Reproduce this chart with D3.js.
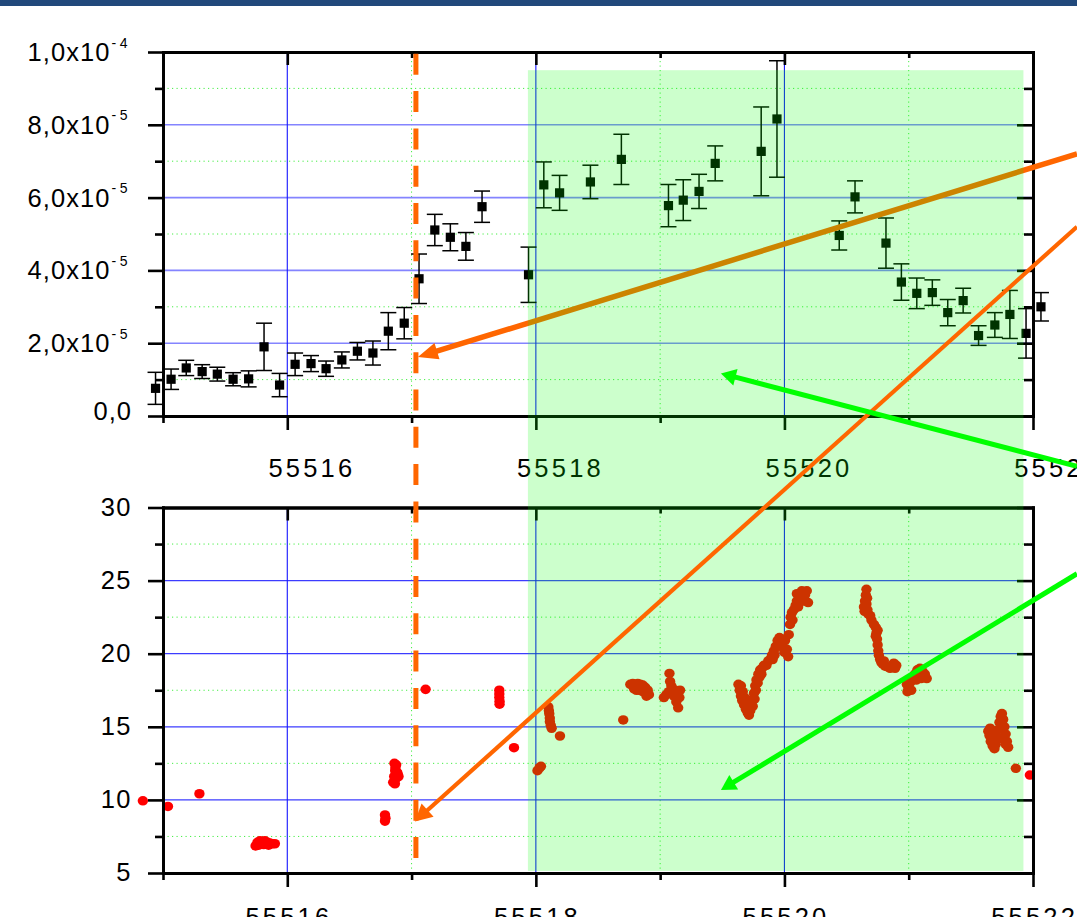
<!DOCTYPE html>
<html>
<head>
<meta charset="utf-8">
<script src="https://cdn.jsdelivr.net/npm/d3@7"></script>
<style>
  html, body { margin: 0; padding: 0; background: #fff; overflow: hidden; }
  svg { display: block; font-family: "Liberation Sans", Arial, sans-serif; }
</style>
</head>
<body>
<svg id="chart" width="1077" height="917"></svg>
<script>
// ---- Flux light curve (3-hour bins), MJD / flux / 1-sigma error ----
const fluxDays = [
  55514.940, 55515.065, 55515.187, 55515.315, 55515.437, 55515.564, 55515.689, 55515.813,
  55515.938, 55516.063, 55516.191, 55516.312, 55516.439, 55516.564, 55516.689, 55516.813,
  55516.941, 55517.060, 55517.187, 55517.312, 55517.437, 55517.567, 55517.941, 55518.064,
  55518.191, 55518.439, 55518.688, 55519.067, 55519.186, 55519.313, 55519.443, 55519.813,
  55519.940, 55520.441, 55520.568, 55520.817, 55520.941, 55521.065, 55521.190, 55521.314,
  55521.438, 55521.562, 55521.693, 55521.814, 55521.944, 55522.064
];
const fluxValues = [
  0.76e-5, 1.01e-5, 1.32e-5, 1.22e-5, 1.15e-5, 1.01e-5, 1.02e-5, 1.90e-5,
  0.85e-5, 1.42e-5, 1.44e-5, 1.30e-5, 1.54e-5, 1.78e-5, 1.73e-5, 2.33e-5,
  2.55e-5, 3.77e-5, 5.11e-5, 4.91e-5, 4.66e-5, 5.75e-5, 3.88e-5, 6.35e-5,
  6.13e-5, 6.43e-5, 7.05e-5, 5.78e-5, 5.93e-5, 6.17e-5, 6.94e-5, 7.27e-5,
  8.16e-5, 4.96e-5, 6.02e-5, 4.75e-5, 3.68e-5, 3.37e-5, 3.39e-5, 2.84e-5,
  3.17e-5, 2.21e-5, 2.50e-5, 2.79e-5, 2.27e-5, 3.00e-5
];
const fluxErrors = [
  0.44e-5, 0.28e-5, 0.21e-5, 0.19e-5, 0.19e-5, 0.18e-5, 0.22e-5, 0.65e-5,
  0.32e-5, 0.31e-5, 0.22e-5, 0.21e-5, 0.22e-5, 0.24e-5, 0.33e-5, 0.51e-5,
  0.43e-5, 0.68e-5, 0.43e-5, 0.37e-5, 0.38e-5, 0.43e-5, 0.76e-5, 0.63e-5,
  0.48e-5, 0.46e-5, 0.69e-5, 0.58e-5, 0.56e-5, 0.47e-5, 0.48e-5, 1.22e-5,
  1.60e-5, 0.40e-5, 0.44e-5, 0.69e-5, 0.50e-5, 0.42e-5, 0.35e-5, 0.36e-5,
  0.34e-5, 0.27e-5, 0.34e-5, 0.66e-5, 0.68e-5, 0.39e-5
];

// ---- Lower panel: individual measurements (MJD, value) ----
const seriesDays = [
  55514.838, 55515.040, 55515.293,
  55515.745, 55515.760, 55515.780, 55515.800, 55515.820, 55515.840, 55515.860, 55515.880,
  55515.900, 55515.770, 55515.810, 55515.850,
  55516.786, 55516.790, 55516.786,
  55516.862, 55516.876, 55516.868, 55516.882, 55516.860, 55516.878, 55516.895, 55516.852,
  55516.866, 55516.888, 55516.870,
  55517.113,
  55517.706, 55517.706, 55517.706, 55517.708, 55517.708,
  55517.824,
  55518.013, 55518.030, 55518.041,
  55518.100, 55518.105, 55518.108, 55518.112, 55518.113, 55518.120, 55518.127,
  55518.194, 55518.703,
  55518.760, 55518.780, 55518.800, 55518.820, 55518.840, 55518.860, 55518.880, 55518.900,
  55518.910, 55518.890, 55518.790, 55518.810, 55518.835, 55518.860,
  55519.075, 55519.080, 55519.090, 55519.100, 55519.120, 55519.140, 55519.160, 55519.030,
  55519.050, 55519.070, 55519.110, 55519.130, 55519.145, 55519.155,
  55519.630, 55519.640, 55519.650, 55519.660, 55519.675, 55519.690, 55519.705, 55519.715,
  55519.650, 55519.665, 55519.680, 55519.695, 55519.710,
  55519.725, 55519.735, 55519.745, 55519.755, 55519.765, 55519.775, 55519.790, 55519.805,
  55519.745, 55519.760, 55519.770, 55519.785, 55519.800, 55519.815, 55519.820, 55519.835,
  55519.855, 55519.870, 55519.885, 55519.900, 55519.915, 55519.930, 55519.945, 55519.960,
  55519.975, 55519.920, 55519.905,
  55519.990, 55520.005, 55520.020, 55520.030, 55520.035, 55520.000,
  55520.045, 55520.050, 55520.060, 55520.065, 55520.075, 55520.090, 55520.100, 55520.110,
  55520.120, 55520.135, 55520.150, 55520.165, 55520.180, 55520.100, 55520.190, 55520.140,
  55520.660, 55520.655, 55520.648, 55520.640, 55520.645, 55520.660, 55520.668, 55520.675,
  55520.690, 55520.700, 55520.665,
  55520.720, 55520.735, 55520.740, 55520.745, 55520.750, 55520.755, 55520.760, 55520.770,
  55520.780, 55520.735, 55520.750,
  55520.790, 55520.810, 55520.830, 55520.850, 55520.870, 55520.890, 55520.900, 55520.880,
  55520.800,
  55520.985, 55520.990, 55521.000, 55521.010, 55521.030, 55521.050, 55521.070, 55521.090,
  55521.110, 55521.130, 55521.145, 55521.020, 55521.060, 55521.100,
  55521.640, 55521.650, 55521.660, 55521.675, 55521.690, 55521.700, 55521.710, 55521.720,
  55521.730, 55521.740, 55521.750, 55521.760, 55521.770, 55521.780, 55521.790, 55521.800,
  55521.655, 55521.700, 55521.750, 55521.780,
  55521.862, 55521.975
];
const seriesValues = [
  9.94, 9.55, 10.42,
  6.85, 7.10, 7.20, 7.15, 7.20, 7.10, 7.05, 7.00,
  7.00, 6.90, 6.95, 6.90,
  8.97, 8.75, 8.55,
  12.50, 12.40, 12.00, 11.90, 11.60, 11.50, 11.60, 11.20,
  11.10, 11.80, 12.20,
  17.56,
  17.50, 17.25, 17.00, 16.75, 16.55,
  13.57,
  12.00, 12.20, 12.30,
  16.37, 16.10, 15.90, 15.60, 15.35, 15.10, 14.90,
  14.37, 15.47,
  17.90, 17.95, 17.90, 17.95, 17.90, 17.85, 17.70, 17.50,
  17.20, 17.10, 17.60, 17.50, 17.50, 17.40,
  18.65, 18.10, 17.80, 17.60, 17.50, 17.40, 17.50, 17.00,
  17.20, 17.40, 17.10, 16.70, 16.30, 17.00,
  17.90, 17.50, 17.10, 16.80, 16.50, 16.20, 15.95, 15.80,
  17.80, 17.40, 17.00, 16.60, 16.30,
  16.10, 16.50, 16.90, 17.30, 17.80, 18.20, 18.60, 18.90,
  16.40, 16.90, 17.50, 18.00, 18.40, 18.60, 19.00, 19.20,
  19.20, 19.50, 19.60, 19.90, 20.20, 20.50, 20.90, 21.10,
  21.00, 19.90, 19.60,
  20.40, 20.90, 20.30, 19.80, 21.30, 20.10,
  22.00, 22.50, 22.80, 22.30, 23.00, 23.30, 23.60, 23.20,
  23.50, 23.90, 23.60, 24.00, 24.30, 24.10, 23.50, 24.30,
  24.40, 24.00, 23.60, 23.20, 22.90, 23.40, 23.00, 22.70,
  22.60, 22.30, 23.80,
  22.00, 21.80, 21.40, 21.00, 20.60, 20.20, 19.90, 19.60,
  19.40, 21.20, 21.60,
  19.30, 19.15, 19.10, 19.00, 19.10, 19.00, 19.20, 19.35,
  19.50,
  17.90, 17.40, 17.60, 18.00, 18.30, 18.60, 18.90, 19.00,
  18.80, 18.60, 18.30, 17.50, 18.20, 18.30,
  14.70, 14.40, 14.00, 13.70, 13.50, 13.80, 14.20, 14.80,
  15.30, 15.70, 15.90, 15.50, 15.00, 14.50, 14.00, 13.60,
  14.90, 14.50, 14.20, 13.80,
  12.16, 11.70
];

// ---- Axis ticks and labels ----
const dayTicks = [55516, 55518, 55520, 55522];
const dayMinorTicks = [55515, 55517, 55519, 55521];
const dayTickLabels = ["55516", "55518", "55520", "55522"];
const fluxTicks = [0, 2e-5, 4e-5, 6e-5, 8e-5, 1e-4];
const fluxMinorTicks = [1e-5, 3e-5, 5e-5, 7e-5, 9e-5];
const fluxTickMantissas = ["0,0", "2,0x10", "4,0x10", "6,0x10", "8,0x10", "1,0x10"];
const fluxTickExponents = ["", "-5", "-5", "-5", "-5", "-4"];
const seriesTicks = [5, 10, 15, 20, 25, 30];
const seriesMinorTicks = [7.5, 12.5, 17.5, 22.5, 27.5];
const seriesTickLabels = ["5", "10", "15", "20", "25", "30"];

// ---- Annotations ----
const flareWindow = [55517.936, 55521.923];   // shaded active period (MJD)
const onsetDay = 55517.035;                  // dashed marker

// ------------------------------------------------------------------
const W = 1077, H = 917;
const svg = d3.select("#chart");
svg.append("rect").attr("width", W).attr("height", H).attr("fill", "#fff");
svg.append("rect").attr("x", 0).attr("y", 0).attr("width", W).attr("height", 6).attr("fill", "#21497b");

const x = d3.scaleLinear().domain([55515, 55522]).range([163, 1033]);
const yTop = d3.scaleLinear().domain([0, 1e-4]).range([416, 52]);
const yBot = d3.scaleLinear().domain([5, 30]).range([873, 507.5]);

const FONT = 25.5;
const AXIS_W = 2.8;

function drawGrid(g, y, majors, minors, majorColor, majorWidth) {
  const [y0, y1] = y.range();
  // minor dotted grid
  g.selectAll(null).data(minors).join("line")
    .attr("x1", x.range()[0]).attr("x2", x.range()[1])
    .attr("y1", d => y(d)).attr("y2", d => y(d))
    .attr("stroke", "#44ee44").attr("stroke-width", 1).attr("stroke-dasharray", "1.2,3.3");
  g.selectAll(null).data(dayMinorTicks.filter(d => d > 55515)).join("line")
    .attr("x1", d => x(d)).attr("x2", d => x(d))
    .attr("y1", y1).attr("y2", y0)
    .attr("stroke", "#44ee44").attr("stroke-width", 1).attr("stroke-dasharray", "1.2,3.3");
  // major grid
  g.selectAll(null).data(majors.filter(d => d > y.domain()[0] && d < y.domain()[1])).join("line")
    .attr("x1", x.range()[0]).attr("x2", x.range()[1])
    .attr("y1", d => y(d)).attr("y2", d => y(d))
    .attr("stroke", majorColor).attr("stroke-width", majorWidth);
  g.selectAll(null).data(dayTicks.filter(d => d < 55522)).join("line")
    .attr("x1", d => x(d)).attr("x2", d => x(d))
    .attr("y1", y1).attr("y2", y0)
    .attr("stroke", "#1515ff").attr("stroke-width", 1.1);
}

function styleAxis(sel) {
  sel.select(".domain").attr("stroke", "#000").attr("stroke-width", AXIS_W).attr("stroke-linecap", "square");
  sel.selectAll(".tick line").attr("stroke", "#000").attr("stroke-width", 2.6);
  sel.selectAll(".tick text").remove();
}

function drawAxes(g, y, majors, minors) {
  const [yb, yt] = y.range();
  const [xl, xr] = x.range();
  const add = (axis, tx, ty) => g.append("g").attr("transform", `translate(${tx},${ty})`).call(axis).call(styleAxis);
  // left (outward)
  add(d3.axisLeft(y).tickValues(minors).tickSize(8).tickSizeOuter(0), xl, 0);
  add(d3.axisLeft(y).tickValues(majors).tickSize(15).tickSizeOuter(0), xl, 0);
  // right (inward)
  add(d3.axisLeft(y).tickValues(minors).tickSize(9).tickSizeOuter(0), xr, 0);
  add(d3.axisLeft(y).tickValues(majors).tickSize(16).tickSizeOuter(0), xr, 0);
  // bottom (outward)
  add(d3.axisBottom(x).tickValues(dayMinorTicks).tickSize(7).tickSizeOuter(0), 0, yb);
  add(d3.axisBottom(x).tickValues(dayTicks).tickSize(14).tickSizeOuter(0), 0, yb);
  // top (inward)
  add(d3.axisBottom(x).tickValues(dayMinorTicks.filter(d => d > 55515)).tickSize(6).tickSizeOuter(0), 0, yt);
  add(d3.axisBottom(x).tickValues(dayTicks).tickSize(13).tickSizeOuter(0), 0, yt);
}

// ---------------- upper panel ----------------
const upperG = svg.append("g");
drawGrid(upperG, yTop, fluxTicks, fluxMinorTicks, "#8484ff", 1.6);

const bars = upperG.append("g").attr("stroke", "#000").attr("stroke-width", 1.5);
fluxDays.forEach((d, i) => {
  const cx = x(d);
  const lo = yTop(fluxValues[i] - fluxErrors[i]);
  const hi = yTop(fluxValues[i] + fluxErrors[i]);
  bars.append("line").attr("x1", cx).attr("x2", cx).attr("y1", lo).attr("y2", hi);
  bars.append("line").attr("x1", cx - 8).attr("x2", cx + 8).attr("y1", lo).attr("y2", lo);
  bars.append("line").attr("x1", cx - 8).attr("x2", cx + 8).attr("y1", hi).attr("y2", hi);
});
upperG.append("g").selectAll("rect").data(fluxDays).join("rect")
  .attr("x", d => x(d) - 4.6).attr("y", (d, i) => yTop(fluxValues[i]) - 4.6)
  .attr("width", 9.2).attr("height", 9.2).attr("fill", "#000");

drawAxes(upperG, yTop, fluxTicks, fluxMinorTicks);

// tick labels (upper)
upperG.selectAll(null).data(dayTicks).join("text")
  .attr("x", (d) => x(d) + 23 + 1.6).attr("y", 477)
  .attr("text-anchor", "middle").attr("font-size", FONT).attr("letter-spacing", 3.2)
  .attr("fill", "#000").text((d, i) => dayTickLabels[i]);

fluxTicks.forEach((v, i) => {
  const ty = yTop(v);
  if (fluxTickExponents[i]) {
    upperG.append("text").attr("x", 27.5).attr("y", ty + 9)
      .attr("font-size", FONT)
      .attr("textLength", 82).attr("lengthAdjust", "spacing")
      .attr("fill", "#000").text(fluxTickMantissas[i]);
    upperG.append("text").attr("x", 111.5).attr("y", ty - 4.5)
      .attr("font-size", 14)
      .attr("textLength", 16).attr("lengthAdjust", "spacing")
      .attr("fill", "#000").text(fluxTickExponents[i]);
  } else {
    upperG.append("text").attr("x", 132).attr("y", ty + 3.5)
      .attr("text-anchor", "end").attr("font-size", FONT).attr("letter-spacing", 1)
      .attr("fill", "#000").text(fluxTickMantissas[i]);
  }
});

// ---------------- lower panel ----------------
const lowerG = svg.append("g");
drawGrid(lowerG, yBot, seriesTicks, seriesMinorTicks, "#3c3cff", 1.2);

lowerG.append("g").selectAll("ellipse").data(seriesDays).join("ellipse")
  .attr("cx", d => x(d)).attr("cy", (d, i) => yBot(seriesValues[i]))
  .attr("rx", 5.2).attr("ry", 4.8).attr("fill", "#ff0000");

drawAxes(lowerG, yBot, seriesTicks, seriesMinorTicks);

lowerG.selectAll(null).data(dayTicks).join("text")
  .attr("x", d => x(d) + 1.6).attr("y", 926)
  .attr("text-anchor", "middle").attr("font-size", FONT).attr("letter-spacing", 3.2)
  .attr("fill", "#000").text((d, i) => dayTickLabels[i]);

lowerG.selectAll(null).data(seriesTicks).join("text")
  .attr("x", 132).attr("y", d => yBot(d) + 8)
  .attr("text-anchor", "end").attr("font-size", FONT).attr("letter-spacing", 1.5)
  .attr("fill", "#000").text((d, i) => seriesTickLabels[i]);

// ---------------- annotations ----------------
const ann = svg.append("g");

// dashed onset marker through both panels
ann.append("line")
  .attr("x1", x(onsetDay)).attr("x2", x(onsetDay))
  .attr("y1", yTop(0.995e-4)).attr("y2", yBot(5.95))
  .attr("stroke", "#ff6600").attr("stroke-width", 5)
  .attr("stroke-dasharray", "21,16.3");

function arrow(g, x1, y1, x2, y2, color, width, L, Wd) {
  const dx = x2 - x1, dy = y2 - y1, len = Math.hypot(dx, dy);
  const ux = dx / len, uy = dy / len;
  const bx = x2 - ux * L, by = y2 - uy * L;
  g.append("line").attr("x1", x1).attr("y1", y1)
    .attr("x2", bx + ux * 2).attr("y2", by + uy * 2)
    .attr("stroke", color).attr("stroke-width", width);
  g.append("path")
    .attr("d", `M${x2},${y2}L${bx - uy * Wd},${by + ux * Wd}L${bx + uy * Wd},${by - ux * Wd}Z`)
    .attr("fill", color);
}

const edgeDay = x.invert(W);

// arrow toward the onset in the flux panel (sits beneath the shading)
arrow(ann, x(edgeDay), yTop(7.2e-5), x(55517.051), yTop(1.62e-5), "#ff6600", 5.5, 20, 8.5);

// shaded active period over both panels
svg.append("rect")
  .attr("x", x(flareWindow[0])).attr("y", yTop(9.5e-5))
  .attr("width", x(flareWindow[1]) - x(flareWindow[0]))
  .attr("height", yBot(5.14) - yTop(9.5e-5))
  .attr("fill", "#00ff00").attr("fill-opacity", 0.2);

const ann2 = svg.append("g");
arrow(ann2, x(edgeDay), yTop(5.2e-5), x(55517.027), yBot(8.52), "#ff6600", 4.2, 17, 9);
arrow(ann2, x(edgeDay), yTop(-1.38e-5), x(55519.489), yTop(1.17e-5), "#00ff00", 5, 15, 8.5);
arrow(ann2, x(edgeDay), yBot(25.47), x(55519.489), yBot(10.68), "#00ff00", 5, 15, 8.5);
</script>
</body>
</html>
